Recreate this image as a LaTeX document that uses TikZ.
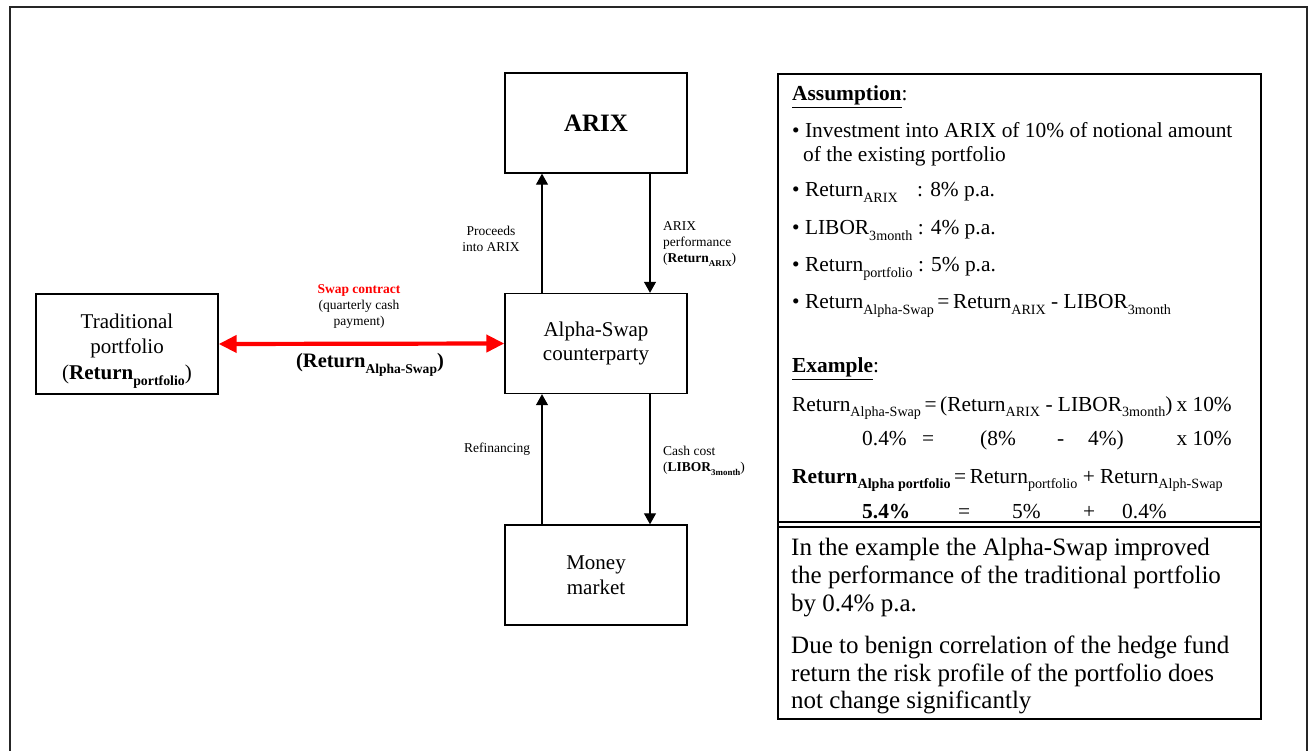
\documentclass[tikz,border=0pt]{standalone}
\usepackage{fontspec}
\setmainfont{Liberation Serif}
\usetikzlibrary{arrows.meta}
\definecolor{swapred}{RGB}{255,0,0}
\makeatletter
\newcommand\sbt[1]{{\@tempdima=\f@size pt\relax\@tempdima=0.66\@tempdima\edef\sbsize{\strip@pt\@tempdima}\raisebox{-0.27em}{\fontsize{\sbsize}{\sbsize}\selectfont #1}}}
\makeatother
\begin{document}
\begin{tikzpicture}[x=1pt,y=-1pt,
  box/.style={draw, line width=1.4pt, inner sep=0pt, minimum width=182pt, minimum height=100pt, align=center, font=\fontsize{21}{24.5}\selectfont},
  boxtext/.style={inner sep=0pt, align=center, font=\fontsize{21}{25.5}\selectfont},
  flow/.style={line width=1.2pt, -{Triangle[length=11pt,width=12pt]}},
  swap/.style={draw=swapred, line width=4.2pt, {Triangle[length=18pt,width=17pt]}-{Triangle[length=18pt,width=17pt]}},
  lbl/.style={font=\fontsize{13.5}{16}\selectfont, inner sep=0pt, align=center},
  txt/.style={font=\fontsize{21.4}{24}\selectfont, inner sep=0pt, anchor=base west},
  big/.style={font=\fontsize{25}{28}\selectfont, inner sep=0pt, anchor=base west},
  panel/.style={line width=1.4pt},
  frame/.style={line width=1.8pt, draw=black!85},
]
\useasboundingbox (0,0) rectangle (1310,751);
\draw[frame] (10,751) -- (10,7) -- (1307,7) -- (1307,751);

% boxes
\node[box] (trad) at (127,344) {};
\node[boxtext] (tradtext) at (127,351) {Traditional\\portfolio\\(\textbf{Return\sbt{portfolio}})};
\node[box, font=\fontsize{25}{28}\selectfont\bfseries] (arix) at (596,123) {ARIX};
\node[box] (alpha) at (596,343.5) {Alpha-Swap\\counterparty};
\node[box] (mm) at (596,575) {Money\\market};

% connectors
\draw[flow] ([xshift=-54pt]alpha.north) -- ([xshift=-54pt]arix.south);
\draw[flow] ([xshift=54pt]arix.south) -- ([xshift=54pt]alpha.north);
\draw[flow] ([xshift=-54pt]mm.north) -- ([xshift=-54pt]alpha.south);
\draw[flow] ([xshift=54pt]alpha.south) -- ([xshift=54pt]mm.north);
\draw[swap] (trad.east) -- (alpha.west);

% connector labels
\node[lbl] (proc) at (491,238.5) {Proceeds\\into ARIX};
\node[lbl, align=left, anchor=west] (perf) at (663,244) {ARIX\\performance\\(\textbf{Return\sbt{ARIX}})};
\node[lbl] (refi) at (497,449) {Refinancing};
\node[lbl, align=left, anchor=west] (cash) at (663,461) {Cash cost\\(\textbf{LIBOR\sbt{3month}})};
\node[lbl, text=swapred, font=\fontsize{13.5}{16}\selectfont\bfseries] (swapc) at (359,290) {Swap contract};
\node[lbl] (qcash) at (359,314) {(quarterly cash\\payment)};
\node[inner sep=0pt, font=\fontsize{20.5}{24}\selectfont\bfseries] (swapret) at (370,365) {(Return\sbt{Alpha-Swap})};

% right panel
\draw[panel] (778,74) rectangle (1261,719);
\draw[panel] (778,522) -- (1261,522);
\draw[panel] (778,527) -- (1261,527);

\node[txt] (a0) at (792,101) {\underline{\textbf{Assumption}}:};
\node[txt] (a1) at (792,138) {\textbullet\ Investment into ARIX of 10\% of notional amount};
\node[txt] (a2) at (803,162) {of the existing portfolio};
\node[txt] (a3) at (792,197) {\textbullet\ Return\sbt{ARIX}};
\node[txt] (a3b) at (917,197) {: 8\% p.a.};
\node[txt] (a4) at (792,235) {\textbullet\ LIBOR\sbt{3month} : 4\% p.a.};
\node[txt] (a5) at (792,272) {\textbullet\ Return\sbt{portfolio} : 5\% p.a.};
\node[txt] (a6) at (792,309) {\textbullet\ Return\sbt{Alpha-Swap}\,=\,Return\sbt{ARIX} - LIBOR\sbt{3month}};

\node[txt] (e0) at (792,373) {\underline{\textbf{Example}}:};
\node[txt] (e1) at (792,411) {Return\sbt{Alpha-Swap}\,=\,(Return\sbt{ARIX} - LIBOR\sbt{3month})};
\node[txt, anchor=base east] (e1b) at (1232,411) {x 10\%};
\node[txt] (e2a) at (862,446) {0.4\%};
\node[txt] (e2b) at (922,446) {=};
\node[txt] (e2c) at (980,446) {(8\%};
\node[txt] (e2d) at (1057,446) {-};
\node[txt] (e2e) at (1088,446) {4\%)};
\node[txt, anchor=base east] (e2f) at (1232,446) {x 10\%};
\node[txt] (e3) at (792,483) {\textbf{Return\sbt{Alpha portfolio}}\,=\,Return\sbt{portfolio} + Return\sbt{Alph-Swap}};
\node[txt] (e4a) at (862,518) {\textbf{5.4\%}};
\node[txt] (e4b) at (958,518) {=};
\node[txt] (e4c) at (1012,518) {5\%};
\node[txt] (e4d) at (1083,518) {+};
\node[txt] (e4e) at (1122,518) {0.4\%};

\node[big] (c1) at (791,555) {In the example the Alpha-Swap improved};
\node[big] (c2) at (791,583) {the performance of the traditional portfolio};
\node[big] (c3) at (791,611) {by 0.4\% p.a.};
\node[big] (c4) at (791,653) {Due to benign correlation of the hedge fund};
\node[big] (c5) at (791,681) {return the risk profile of the portfolio does};
\node[big] (c6) at (791,708) {not change significantly};
\end{tikzpicture}
\end{document}
